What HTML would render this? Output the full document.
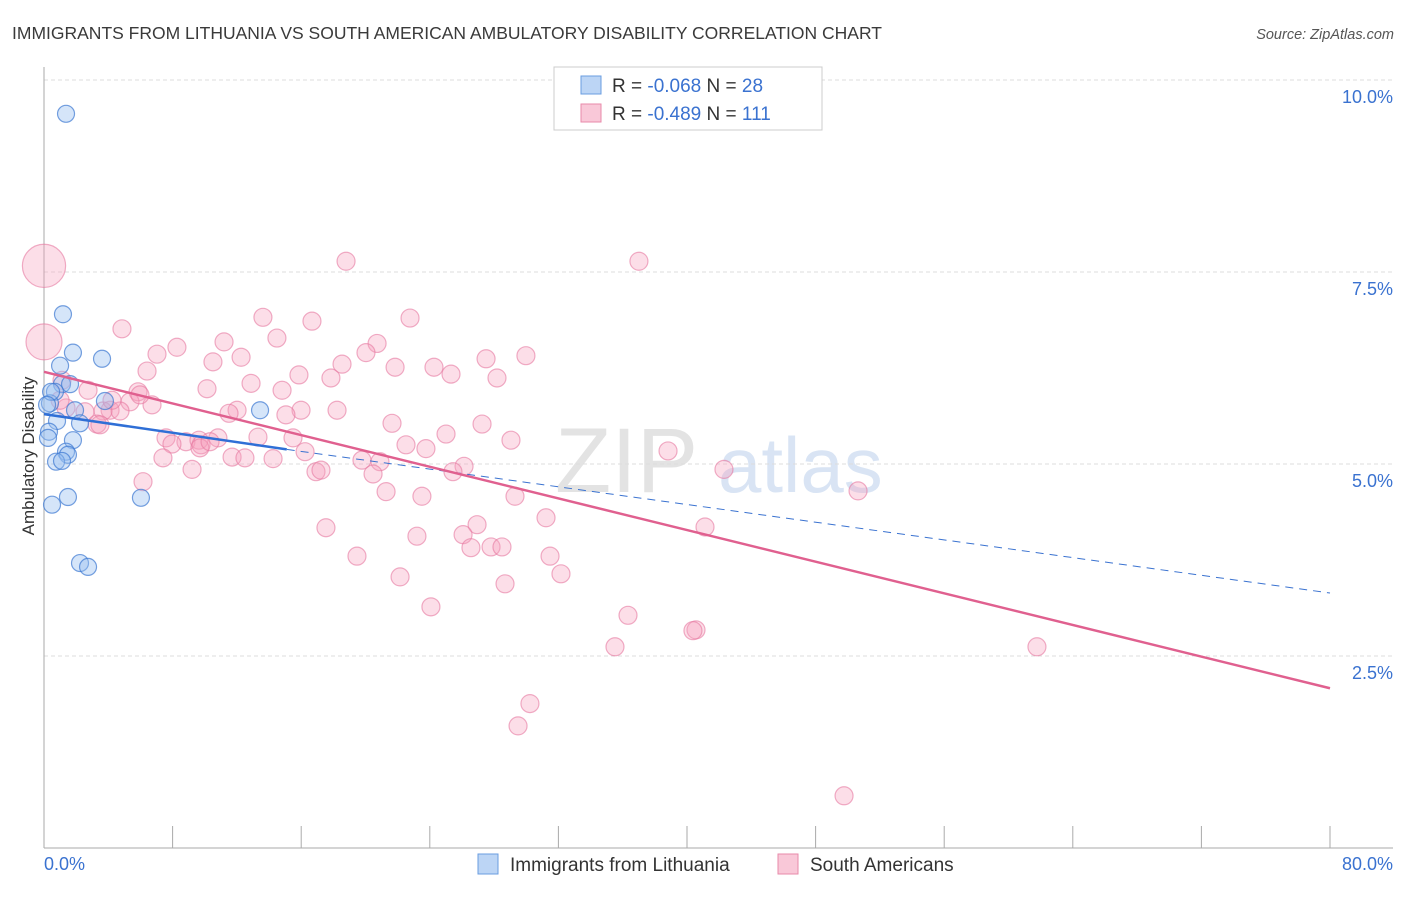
<!DOCTYPE html>
<html><head><meta charset="utf-8"><style>
body{margin:0;background:#fff;font-family:"Liberation Sans",sans-serif;}
svg text{font-family:"Liberation Sans",sans-serif;}
</style></head><body>
<svg id="chart" width="1406" height="892" viewBox="0 0 1406 892" xmlns="http://www.w3.org/2000/svg">
<text x="12" y="39" font-size="17.5" fill="#3a3a3a">IMMIGRANTS FROM LITHUANIA VS SOUTH AMERICAN AMBULATORY DISABILITY CORRELATION CHART</text>
<text x="1394" y="39" font-size="14.5" fill="#555" text-anchor="end" font-style="italic">Source: ZipAtlas.com</text>
<g>
<text x="555" y="492" font-size="92" fill="#d8d8d8" font-family="Liberation Serif" opacity="0.7">ZIP</text>
<text x="718" y="492" font-size="78" fill="#c9daf0" opacity="0.7">atlas</text>
</g>
<g id="grid"></g>
<g id="axes"></g>
<g id="pink"></g>
<g id="blue"></g>
<g id="trends"></g>
<text transform="translate(34,456) rotate(-90)" font-size="17" fill="#333" text-anchor="middle">Ambulatory Disability</text>
<g>
<rect x="554" y="67" width="268" height="63" fill="#fff" stroke="#ccc"/>
<rect x="581" y="76" width="20" height="18" fill="#bcd5f5" stroke="#6a9de0"/>
<rect x="581" y="104" width="20" height="18" fill="#f9c8d8" stroke="#e88aaa"/>
<text x="612" y="92" font-size="19" fill="#333">R = <tspan fill="#3a72d0">-0.068</tspan>   N = <tspan fill="#3a72d0">28</tspan></text>
<text x="612" y="120" font-size="19" fill="#333">R = <tspan fill="#3a72d0">-0.489</tspan>   N = <tspan fill="#3a72d0">111</tspan></text>
</g>
<g>
<rect x="478" y="854" width="20" height="20" fill="#bcd5f5" stroke="#6a9de0"/>
<text x="510" y="871" font-size="19" fill="#333">Immigrants from Lithuania</text>
<rect x="778" y="854" width="20" height="20" fill="#f9c8d8" stroke="#e88aaa"/>
<text x="810" y="871" font-size="19" fill="#333">South Americans</text>
</g>
</svg>
<script>
const blueX=[1.37,1.18,1.80,3.61,1.00,1.12,1.62,0.68,0.37,3.79,13.44,1.93,2.24,0.81,0.31,0.25,1.80,1.37,1.49,0.75,1.12,1.49,0.50,6.03,2.24,2.74,0.44,0.19];
const blueY=[9.56,6.95,6.45,6.37,6.28,6.04,6.04,5.94,5.79,5.82,5.70,5.70,5.53,5.56,5.42,5.34,5.31,5.16,5.12,5.03,5.04,4.57,4.47,4.56,3.71,3.66,5.94,5.77];
const pinkX=[0,0,18.79,37.01,4.85,13.62,16.67,22.77,14.49,11.20,8.27,7.03,20.72,20.03,12.26,10.51,27.50,29.98,21.84,24.26,25.32,18.54,6.41,15.86,17.85,28.18,12.88,2.74,10.14,5.85,14.81,1.12,5.35,6.72,4.11,4.73,3.67,12.01,11.51,18.23,15.99,15.05,1.37,2.55,21.65,27.25,3.30,7.59,8.83,9.64,7.96,10.82,13.31,9.77,15.49,25.01,29.05,22.52,23.76,16.24,7.40,11.70,12.50,14.25,19.78,20.90,38.82,26.13,9.21,16.92,17.23,20.47,25.44,42.30,6.16,21.28,23.51,29.30,50.64,31.23,26.94,17.54,41.12,26.07,23.20,19.47,31.48,26.56,27.81,28.49,22.15,32.16,28.68,24.07,36.33,40.56,40.37,35.52,61.77,30.23,29.49,49.77,3.48,1.00,5.97,4.23,9.70,10.33,38.3];
const pinkY=[7.58,6.59,7.64,7.64,6.76,6.91,6.86,6.90,6.64,6.59,6.52,6.43,6.57,6.45,6.39,6.33,6.37,6.41,6.26,6.26,6.17,6.30,6.21,6.16,6.12,6.12,6.05,5.96,5.98,5.94,5.96,6.09,5.81,5.77,5.70,5.69,5.69,5.70,5.66,5.70,5.70,5.64,5.73,5.68,5.53,5.52,5.52,5.34,5.29,5.31,5.26,5.34,5.35,5.25,5.34,5.39,5.31,5.25,5.20,5.16,5.08,5.09,5.08,5.07,5.05,5.03,5.17,4.97,4.93,4.90,4.92,4.87,4.90,4.93,4.77,4.64,4.58,4.58,4.65,4.30,4.21,4.17,4.18,4.08,4.06,3.80,3.80,3.91,3.92,3.92,3.53,3.57,3.44,3.14,3.03,2.84,2.83,2.62,2.62,1.88,1.59,0.68,5.51,5.83,5.90,5.83,5.21,5.29,9.57];
const pinkSize=[2.4,2.0];
const yTicks=[10,7.5,5,2.5];
const yTickLabels=["10.0%","7.5%","5.0%","2.5%"];
const xTicks=[0,8,16,24,32,40,48,56,64,72,80];
const xTickLabels=["0.0%","80.0%"];
const blueTrendX=[0,15.1,80];
const blueTrendY=[5.65,5.19,3.32];
const pinkTrendX=[0,80];
const pinkTrendY=[6.20,2.08];

const NS="http://www.w3.org/2000/svg";
const X=v=>44+v*1286/80;
const Y=v=>848-v*76.8;
function mk(tag,attrs,parent){const e=document.createElementNS(NS,tag);for(const k in attrs)e.setAttribute(k,attrs[k]);parent.appendChild(e);return e;}
const grid=document.getElementById('grid'),axes=document.getElementById('axes');
yTicks.forEach((t,i)=>{
  const l=mk('line',{x1:44,x2:1393,y1:Y(t),y2:Y(t),stroke:'#ddd','stroke-dasharray':'4,3'},grid);
  
  
  const tx=mk('text',{x:1393,y:Y(t)+23,'font-size':18,fill:'#3a72d0','text-anchor':'end'},axes);
  tx.textContent=yTickLabels[i];
  
  
});
const ya=mk('line',{x1:44,x2:44,y1:67,y2:848,stroke:'#aaa'},axes);


const xa=mk('line',{x1:44,x2:1393,y1:848,y2:848,stroke:'#aaa'},axes);


xTicks.forEach(t=>{
  const l=mk('line',{x1:X(t),x2:X(t),y1:826,y2:848,stroke:'#aaa'},axes);
  
  
});
const xl0=mk('text',{x:44,y:870,'font-size':18,fill:'#3a72d0'},axes);
xl0.textContent=xTickLabels[0];


const xl1=mk('text',{x:1393,y:870,'font-size':18,fill:'#3a72d0','text-anchor':'end'},axes);
xl1.textContent=xTickLabels[1];



const pg=document.getElementById('pink');
pinkX.forEach((v,i)=>{
  const r=9*(pinkSize[i]||1);
  const c=mk('circle',{cx:X(v),cy:Y(pinkY[i]),r:r,fill:'rgba(245,160,190,0.35)',stroke:'rgba(230,120,160,0.6)','stroke-width':1.2},pg);
  
  
});
const bg=document.getElementById('blue');
blueX.forEach((v,i)=>{
  const c=mk('circle',{cx:X(v),cy:Y(blueY[i]),r:8.5,fill:'rgba(150,190,240,0.4)',stroke:'rgba(60,120,210,0.7)','stroke-width':1.2},bg);
  
  
});
const tg=document.getElementById('trends');
const b1=mk('line',{x1:X(blueTrendX[1]),y1:Y(blueTrendY[1]),x2:X(blueTrendX[2]),y2:Y(blueTrendY[2]),stroke:'#3a72d0','stroke-width':1,'stroke-dasharray':'8,6'},tg);


const p1=mk('line',{x1:X(pinkTrendX[0]),y1:Y(pinkTrendY[0]),x2:X(pinkTrendX[1]),y2:Y(pinkTrendY[1]),stroke:'#e0608f','stroke-width':2.5},tg);


const b0=mk('line',{x1:X(blueTrendX[0]),y1:Y(blueTrendY[0]),x2:X(blueTrendX[1]),y2:Y(blueTrendY[1]),stroke:'#2f6fd6','stroke-width':2.5},tg);


</script>
</body></html>
